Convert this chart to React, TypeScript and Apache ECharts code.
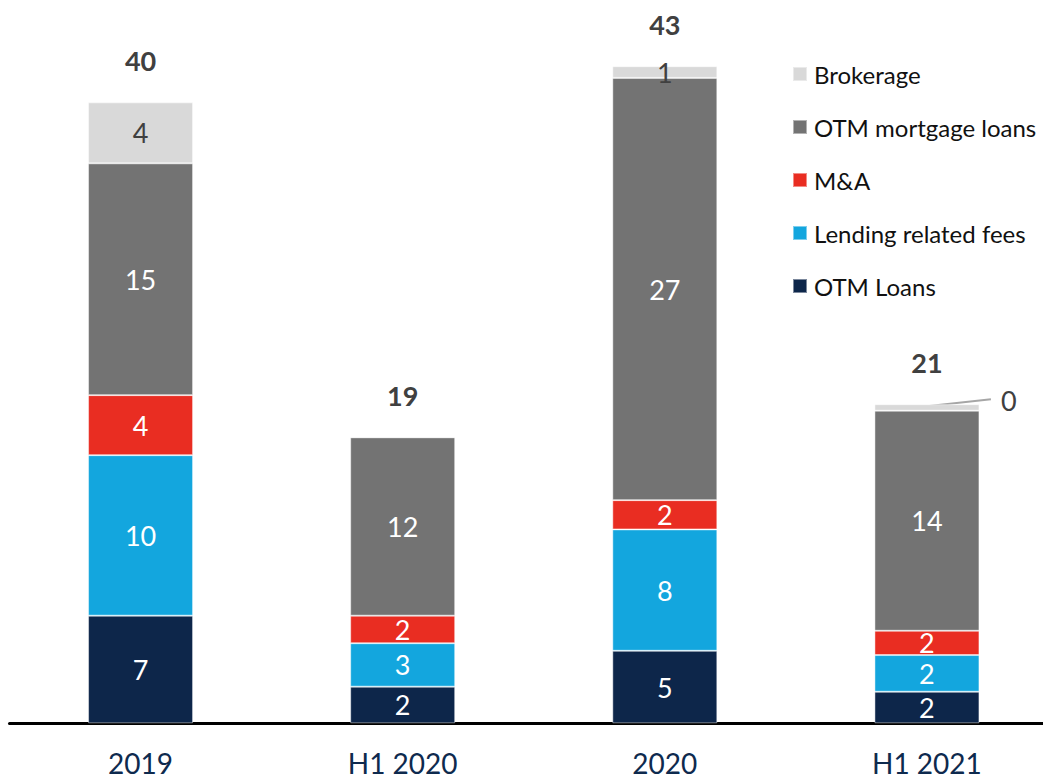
import React, { useEffect, useRef } from "react";
import * as echarts from "echarts";

const categories = ["2019", "H1 2020", "2020", "H1 2021"];
const otmLoans = [6.99, 2.38, 4.71, 2.05];
const lendingFees = [10.42, 2.82, 7.88, 2.38];
const mna = [3.9, 1.79, 1.9, 1.58];
const otmMortgage = [15.05, 11.58, 27.42, 14.29];
const brokerage = [3.96, 0, 0.76, 0.42];

const legendOrder = ["Brokerage", "OTM mortgage loans", "M&A", "Lending related fees", "OTM Loans"];

const FONT = "Lato, 'Noto Sans', sans-serif";

export default function App() {
  const ref = useRef<HTMLDivElement>(null);
  useEffect(() => {
    if (!ref.current) return;
    const chart = echarts.init(ref.current, undefined, { renderer: "svg" });
    const totals = categories.map(
      (_, i) => otmLoans[i] + lendingFees[i] + mna[i] + otmMortgage[i] + brokerage[i]
    );
    const insideLabel = (color: string) => ({
      show: true,
      position: "inside",
      color,
      fontFamily: FONT,
      fontSize: 27,
      formatter: (p: any) => String(Math.round(p.value)),
    });
    const mk = (name: string, data: number[], color: string, labelColor = "#ffffff") => ({
      name,
      type: "bar",
      stack: "total",
      barWidth: 105,
      data: data.map((v) => (v < 0.5 ? { value: v, label: { show: false } } : v)),
      itemStyle: { color, borderColor: "rgba(255,255,255,0.45)", borderWidth: 1 },
      label: insideLabel(labelColor),
      emphasis: { disabled: true },
    });
    const smallBrokerage = brokerage
      .map((v, i) => ({ v, i }))
      .filter((d) => d.v > 0 && d.v < 0.5)
      .map((d) => [d.i, totals[d.i], d.v]);

    chart.setOption({
      animation: false,
      grid: { left: 9.5, right: 0, top: 14.9, bottom: 57.7 },
      legend: {
        orient: "vertical",
        left: 787,
        top: 57,
        itemWidth: 14,
        itemHeight: 14,
        itemGap: 29,
        icon: "rect",
        data: legendOrder,
        textStyle: { fontFamily: FONT, fontSize: 24, color: "#111111", lineHeight: 24, padding: [0, 0, 0, 2] },
      },
      xAxis: {
        type: "category",
        data: categories,
        axisLine: { lineStyle: { color: "#000000", width: 3 } },
        axisTick: { show: false },
        axisLabel: { color: "#0e2a4e", fontFamily: FONT, fontSize: 28, lineHeight: 28, margin: 26 },
      },
      yAxis: {
        type: "value",
        min: 0,
        max: 46,
        show: false,
        splitLine: { show: false },
      },
      series: [
        mk("OTM Loans", otmLoans, "#0d264a"),
        mk("Lending related fees", lendingFees, "#13a6de"),
        mk("M&A", mna, "#e92d22"),
        mk("OTM mortgage loans", otmMortgage, "#737373"),
        mk("Brokerage", brokerage, "#d9d9d9", "#404040"),
        {
          type: "custom",
          name: "totals",
          data: totals.map((t, i) => [i, t]),
          silent: true,
          renderItem: (params: any, api: any) => {
            const p = api.coord([api.value(0), api.value(1)]);
            return {
              type: "text",
              x: p[0],
              y: p[1] - 42,
              style: {
                text: String(Math.round(api.value(1))),
                fill: "#404040",
                font: `bold 27px ${FONT}`,
                align: "center",
                verticalAlign: "middle",
              },
            };
          },
        },
        {
          type: "custom",
          name: "smallLabels",
          data: smallBrokerage,
          silent: true,
          renderItem: (params: any, api: any) => {
            const p = api.coord([api.value(0), api.value(1)]);
            return {
              type: "group",
              children: [
                {
                  type: "line",
                  shape: { x1: p[0], y1: p[1] + 2, x2: p[0] + 64, y2: p[1] - 5 },
                  style: { stroke: "#a6a6a6", lineWidth: 2 },
                },
                {
                  type: "text",
                  x: p[0] + 82,
                  y: p[1] - 4,
                  style: {
                    text: String(Math.round(api.value(2))),
                    fill: "#404040",
                    font: `27px ${FONT}`,
                    align: "center",
                    verticalAlign: "middle",
                  },
                },
              ],
            };
          },
        },
      ],
    });
    return () => chart.dispose();
  }, []);
  return (
    <div style={{ position: "absolute", left: 0, top: 0, width: 1043, height: 781, overflow: "hidden", background: "#ffffff" }}>
      <div ref={ref} style={{ position: "absolute", left: 0, top: 0, width: 1057.5, height: 781 }} />
    </div>
  );
}
